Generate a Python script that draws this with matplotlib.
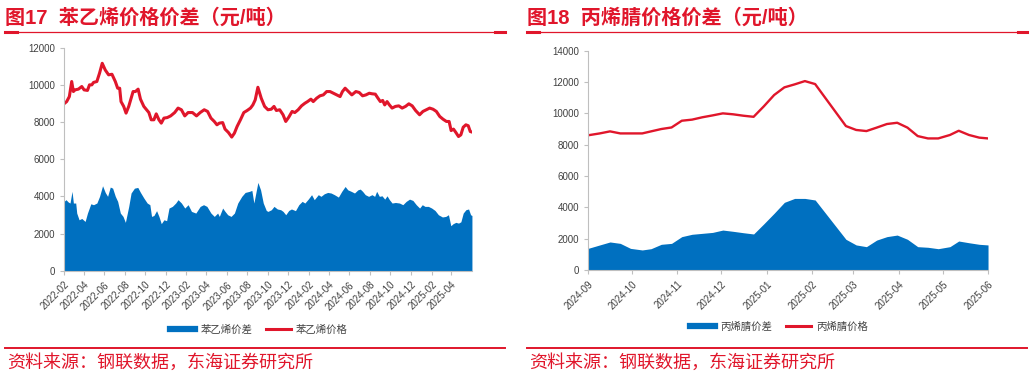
import matplotlib
matplotlib.use("Agg")
import matplotlib.pyplot as plt
import matplotlib.dates as mdates
from matplotlib.lines import Line2D
import pandas as pd

plt.rcParams["font.family"] = ["Liberation Sans", "Noto Sans CJK SC"]

RED = "#E0162B"
BLUE = "#0070C0"
AXIS_GREY = "#BFBFBF"
TEXT_GREY = "#404040"

# styrene (weekly), x given as days since 2022-02-01
sty_start = "2022-02-01"
sty_price_day = [0, 8, 16, 23, 28, 33, 43, 53, 60, 70, 76, 83, 88, 98, 106, 114, 123, 133, 143, 153,
                 160, 166, 170, 178, 185, 193, 200, 206, 213, 221, 228, 238, 246, 253, 260, 268, 275, 283, 290,
                 298, 308, 318, 330, 340, 350, 360, 370, 383, 395, 406, 418, 428, 438, 448, 456, 463, 473, 480,
                 490, 500, 508, 516, 526, 536, 546, 556, 563, 570, 578, 588, 598,
                 608, 618, 626, 633, 643, 653, 661, 670, 680, 688, 698, 708, 718, 726, 736, 743, 753, 763, 773,
                 783, 793, 803, 813, 823, 830, 838, 848, 858, 870, 880, 890, 900, 910,
                 918, 928, 936, 943, 950, 956, 963, 970, 978, 988, 998, 1008, 1018, 1028, 1038, 1048, 1060, 1070,
                 1080, 1090, 1100, 1110, 1120, 1130, 1140, 1148, 1154, 1161, 1168, 1176, 1183, 1190, 1198, 1205,
                 1211, 1216]
sty_price = [8980, 9100, 9370, 10180, 9640, 9730, 9770, 9910, 9730, 9700, 10000, 10000, 10130, 10180, 10630,
             11160, 10800, 10540, 10570, 10180, 9820, 9820, 9100, 8840, 8480, 8840, 9280, 9640, 9640, 9770, 9230,
             8840, 8660, 8510, 8120, 8120, 8440, 8120, 7940,
             8210, 8240, 8330, 8510, 8750, 8660, 8330, 8510, 8510, 8330, 8510, 8660, 8570, 8210, 8030, 7850, 7940,
             7970, 7620, 7440, 7190, 7400, 7760, 8120, 8510, 8620, 8750, 8920, 9190, 9870, 9280, 8840,
             8660, 8690, 8840, 8620, 8660, 8390, 8030, 8260, 8570, 8510, 8660, 8870, 9010, 9100, 9230, 9100, 9280,
             9410, 9460, 9640, 9640, 9550, 9460, 9370, 9640, 9820, 9640, 9460, 9640, 9590, 9410, 9460, 9550,
             9520, 9500, 9280, 9100, 9160, 8920, 9100, 8920, 8750, 8840, 8870, 8750, 8840, 8980, 8870, 8620, 8390,
             8570, 8660, 8750, 8690, 8570, 8300, 8150, 8030, 8030, 7540, 7620, 7440, 7220, 7310, 7720, 7850, 7800,
             7490, 7460]
sty_spread_day = [0, 6, 13, 18, 24, 28, 35, 38, 45, 53, 63, 70, 80, 88, 98, 106, 115, 123, 130, 138, 145, 153,
                  160, 168, 176, 183, 193, 200, 210, 220, 228, 238, 248, 256, 261, 268, 276, 283, 290,
                  298, 306, 313, 323, 333, 340, 350, 360, 370, 380, 393, 406, 416, 426, 438, 448, 458, 463, 473,
                  480, 488, 498, 508, 518, 530, 540, 553, 560, 566, 578, 586, 594, 603,
                  608, 618, 626, 636, 646, 653, 661, 670, 678, 690, 700, 710, 718, 728, 738, 746, 758, 766, 776,
                  786, 796, 806, 818, 828, 838, 846, 856, 866, 876, 883, 890, 898, 908,
                  918, 926, 932, 940, 948, 956, 963, 970, 978, 988, 1000, 1010, 1020, 1030, 1040, 1050, 1060, 1068,
                  1076, 1086, 1096, 1106, 1116, 1128, 1138, 1146, 1153, 1160, 1168, 1176, 1183, 1190, 1198, 1206,
                  1212, 1216]
sty_spread = [3730, 3820, 3690, 3640, 4270, 3640, 3640, 3100, 2740, 2810, 2650, 3100, 3600, 3550, 3640, 4000,
              4570, 4210, 4000, 4500, 4440, 4000, 3730, 3100, 2920, 2600, 3460, 4180, 4440, 4480, 4210, 3910,
              3640, 3550, 2920, 2970, 3230, 2920, 2530,
              2740, 2690, 3370, 3460, 3640, 3820, 3640, 3370, 3550, 3190, 3100, 3460, 3550, 3460, 3100, 2920,
              3100, 2920, 3370, 3190, 3010, 2920, 3100, 3640, 4000, 4210, 4270, 4320, 3640, 4750, 4350, 3640, 3240,
              3190, 3280, 3460, 3320, 3280, 3190, 3010, 3240, 3320, 3230, 3550, 3730, 3640, 3850, 4090, 3820,
              4090, 4000, 4140, 4210, 4180, 4090, 3960, 4270, 4530, 4350, 4270, 4180, 4350, 4390, 4270, 4090, 4000,
              4090, 4000, 4270, 4000, 4030, 3850, 4030, 3820, 3640, 3670, 3640, 3550, 3730, 3850, 3780, 3550,
              3370, 3550, 3460, 3460, 3370, 3240, 3010, 2890, 2920, 3010, 2420, 2530, 2600, 2560, 2630, 3100,
              3280, 3320, 3010, 2970]

# acrylonitrile (weekly)
acn_dates = ["2024-09-01", "2024-09-09", "2024-09-16", "2024-09-23", "2024-09-30", "2024-10-08", "2024-10-14",
             "2024-10-21", "2024-10-28", "2024-11-04", "2024-11-11", "2024-11-18", "2024-11-25", "2024-12-02",
             "2024-12-09", "2024-12-16", "2024-12-23", "2024-12-30", "2025-01-06", "2025-01-13", "2025-01-20",
             "2025-01-27", "2025-02-03", "2025-02-24", "2025-03-03", "2025-03-10", "2025-03-17", "2025-03-24",
             "2025-03-31", "2025-04-07", "2025-04-14", "2025-04-21", "2025-04-28", "2025-05-06", "2025-05-12",
             "2025-05-19", "2025-05-26", "2025-06-01"]
acn_price = [8600, 8720, 8850, 8720, 8720, 8720, 8850, 9000, 9100, 9530, 9600, 9750, 9870, 10000, 9940, 9850,
             9780, 10450, 11170, 11660, 11850, 12060, 11870, 9190, 8940, 8870, 9090, 9320, 9400, 9090, 8550,
             8400, 8400, 8620, 8890, 8620, 8450, 8400]
acn_spread = [1380, 1600, 1790, 1700, 1380, 1280, 1360, 1640, 1700, 2130, 2280, 2340, 2400, 2550, 2470, 2380,
              2300, 2950, 3620, 4320, 4570, 4570, 4470, 1960, 1600, 1490, 1910, 2130, 2230, 1960, 1490, 1450,
              1360, 1490, 1850, 1740, 1640, 1600]


def style_axis(ax, ymax, ystep):
    for side in ("top", "right"):
        ax.spines[side].set_visible(False)
    for side in ("left", "bottom"):
        ax.spines[side].set_color(AXIS_GREY)
        ax.spines[side].set_linewidth(0.8)
    ax.set_ylim(0, ymax)
    ax.set_yticks(range(0, ymax + 1, ystep))
    ax.tick_params(axis="both", colors=AXIS_GREY, labelcolor=TEXT_GREY, labelsize=7,
                   length=3, width=0.8, direction="out")
    ax.xaxis.set_major_formatter(mdates.DateFormatter("%Y-%m"))
    for lbl in ax.get_xticklabels():
        lbl.set_rotation(45)
        lbl.set_ha("right")
        lbl.set_va("top")
        lbl.set_rotation_mode("anchor")


def panel_frame(fig, x0, x1, title, source):
    fig.text(x0, 0.952, title, color=RED, fontsize=14.5, fontweight="bold", ha="left", va="center")
    fig.add_artist(Line2D([x0, x1], [0.9164, 0.9164], transform=fig.transFigure, color=RED, lw=0.9))
    fig.add_artist(Line2D([x0, x0 + 0.011], [0.9164, 0.9164], transform=fig.transFigure, color=RED, lw=2.2))
    fig.add_artist(Line2D([x1 - 0.009, x1], [0.9164, 0.9164], transform=fig.transFigure, color=RED, lw=2.2))
    fig.add_artist(Line2D([x0, x1], [0.0777, 0.0777], transform=fig.transFigure, color=RED, lw=1.4))
    fig.text(x0 + 0.002, 0.037, source, color=RED, fontsize=13, ha="left", va="center")


fig = plt.figure(figsize=(10.32, 3.77), dpi=100)

# left panel: styrene
ax1 = fig.add_axes([0.0620, 0.2820, 0.3953, 0.5915])
base = pd.Timestamp(sty_start)
price_x = base + pd.to_timedelta(sty_price_day, unit="D")
spread_x = base + pd.to_timedelta(sty_spread_day, unit="D")
ax1.fill_between(spread_x, sty_spread, 0, color=BLUE, lw=0, label="苯乙烯价差")
ax1.plot(price_x, sty_price, color=RED, lw=2.2, label="苯乙烯价格")
ax1.set_xlim(base, pd.Timestamp("2025-06-01"))
ax1.set_xticks(pd.date_range("2022-02-01", "2025-04-01", freq="2MS"))
style_axis(ax1, 12000, 2000)

# right panel: acrylonitrile
ax2 = fig.add_axes([0.5698, 0.2838, 0.3876, 0.5817])
acn_x = pd.to_datetime(acn_dates)
ax2.fill_between(acn_x, acn_spread, 0, color=BLUE, lw=0)
ax2.plot(acn_x, acn_price, color=RED, lw=1.7)
ax2.set_xlim(pd.Timestamp("2024-09-01"), pd.Timestamp("2025-06-01"))
ax2.set_xticks(pd.date_range("2024-09-01", "2025-06-01", freq="MS"))
style_axis(ax2, 14000, 2000)

panel_frame(fig, 0.005, 0.489, "图17  苯乙烯价格价差（元/吨）", "资料来源：钢联数据，东海证券研究所")
panel_frame(fig, 0.511, 0.995, "图18  丙烯腈价格价差（元/吨）", "资料来源：钢联数据，东海证券研究所")

legend_kw = dict(loc="center", ncol=2, frameon=False, fontsize=7.5, handlelength=2.4,
                 handletextpad=0.5, columnspacing=1.3, labelcolor=TEXT_GREY)
fig.legend([Line2D([], [], color=BLUE, lw=4.5), Line2D([], [], color=RED, lw=2.2)],
           ["苯乙烯价差", "苯乙烯价格"], bbox_to_anchor=(0.251, 0.125), **legend_kw)
fig.legend([Line2D([], [], color=BLUE, lw=4.5), Line2D([], [], color=RED, lw=2.2)],
           ["丙烯腈价差", "丙烯腈价格"], bbox_to_anchor=(0.755, 0.133), **legend_kw)

fig.savefig("out.png", dpi=100)
